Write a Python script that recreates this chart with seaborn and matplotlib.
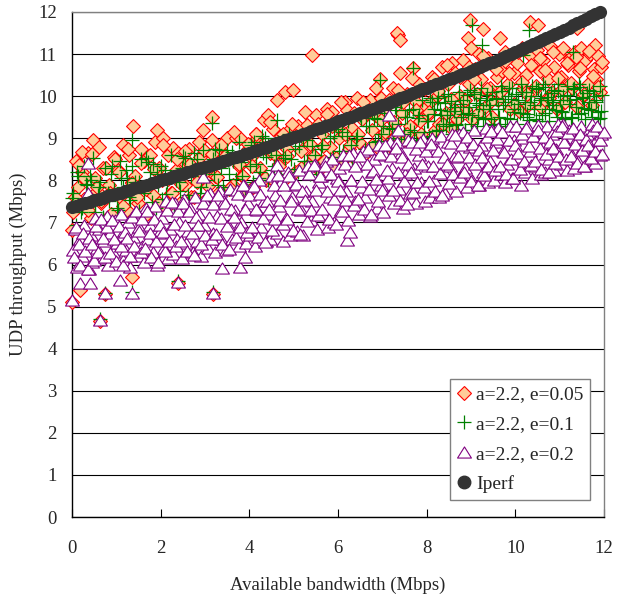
import matplotlib
matplotlib.use("Agg")
import matplotlib.pyplot as plt
from matplotlib.lines import Line2D
from matplotlib.path import Path
import seaborn as sns

# ---------------- data ----------------
iperf_x = [
    0.0, 0.1, 0.2, 0.3, 0.4, 0.5, 0.6, 0.7, 0.8, 0.9,
    1.0, 1.1, 1.2, 1.3, 1.4, 1.5, 1.6, 1.7, 1.8, 1.9,
    2.0, 2.1, 2.2, 2.3, 2.4, 2.5, 2.6, 2.7, 2.8, 2.9,
    3.0, 3.1, 3.2, 3.3, 3.4, 3.5, 3.6, 3.7, 3.8, 3.9,
    4.0, 4.1, 4.2, 4.3, 4.4, 4.5, 4.6, 4.7, 4.8, 4.9,
    5.0, 5.1, 5.2, 5.3, 5.4, 5.5, 5.6, 5.7, 5.8, 5.9,
    6.0, 6.1, 6.2, 6.3, 6.4, 6.5, 6.6, 6.7, 6.8, 6.9,
    7.0, 7.1, 7.2, 7.3, 7.4, 7.5, 7.6, 7.7, 7.8, 7.9,
    8.0, 8.1, 8.2, 8.3, 8.4, 8.5, 8.6, 8.7, 8.8, 8.9,
    9.0, 9.1, 9.2, 9.3, 9.4, 9.5, 9.6, 9.7, 9.8, 9.9,
    10.0, 10.1, 10.2, 10.3, 10.4, 10.5, 10.6, 10.7, 10.8, 10.9,
    11.0, 11.1, 11.2, 11.3, 11.4, 11.5, 11.6, 11.7, 11.8, 11.9,
]
iperf_y = [
    7.37, 7.40, 7.43, 7.46, 7.49, 7.53, 7.56, 7.59, 7.62, 7.65,
    7.68, 7.71, 7.74, 7.78, 7.81, 7.84, 7.87, 7.90, 7.94, 7.97,
    8.00, 8.03, 8.06, 8.10, 8.13, 8.16, 8.19, 8.22, 8.26, 8.29,
    8.32, 8.35, 8.39, 8.42, 8.45, 8.49, 8.52, 8.56, 8.59, 8.63,
    8.66, 8.70, 8.73, 8.77, 8.80, 8.84, 8.88, 8.91, 8.95, 8.98,
    9.02, 9.06, 9.10, 9.13, 9.17, 9.21, 9.25, 9.29, 9.32, 9.36,
    9.40, 9.44, 9.48, 9.51, 9.55, 9.59, 9.63, 9.67, 9.70, 9.74,
    9.78, 9.82, 9.86, 9.91, 9.95, 9.99, 10.03, 10.07, 10.12, 10.16,
    10.20, 10.24, 10.28, 10.32, 10.36, 10.40, 10.44, 10.48, 10.52, 10.56,
    10.60, 10.64, 10.69, 10.73, 10.78, 10.82, 10.86, 10.91, 10.95, 11.00,
    11.04, 11.09, 11.14, 11.19, 11.24, 11.29, 11.33, 11.38, 11.43, 11.48,
    11.53, 11.58, 11.63, 11.69, 11.74, 11.79, 11.84, 11.90, 11.95, 12.00,
]

# a=2.2, e=0.05 (diamonds)
dia_x = [
    0.03, 0.08, 0.14, 0.0, 0.18, 0.0,
    0.23, 0.28, 0.35, 0.22,
    0.43, 0.48, 0.52, 0.57,
    0.61, 0.63, 0.66, 0.71, 0.74,
    0.83, 0.88, 0.95,
    1.03, 1.08, 1.16,
    1.23, 1.28, 1.35, 1.36, 1.38,
    1.43, 1.48, 1.56,
    1.63, 1.69, 1.75,
    1.83, 1.88, 1.91, 1.96,
    2.03, 2.06, 2.12, 2.17,
    2.23, 2.28, 2.34, 2.38, 2.40,
    2.44, 2.50, 2.56,
    2.63, 2.68, 2.75,
    2.83, 2.88, 2.96, 2.97,
    3.03, 3.08, 3.15, 3.16, 3.19,
    3.23, 3.29, 3.36,
    3.43, 3.49, 3.55,
    3.63, 3.71, 3.76,
    3.79, 3.84, 3.90, 3.96,
    4.03, 4.08, 4.14,
    4.17, 4.24, 4.32, 4.37,
    4.43, 4.47, 4.54, 4.58,
    4.62, 4.66, 4.72, 4.78,
    4.80, 4.85, 4.92, 4.99,
    5.04, 5.10, 5.17,
    5.23, 5.29, 5.35,
    5.41, 5.44, 5.50, 5.57,
    5.63, 5.69, 5.76,
    5.83, 5.86, 5.92, 5.97,
    6.03, 6.09, 6.15,
    6.20, 6.25, 6.32, 6.38,
    6.43, 6.48, 6.55,
    6.63, 6.72, 6.77,
    6.83, 6.88, 6.95, 6.97,
    7.03, 7.09, 7.16,
    7.23, 7.29, 7.35, 7.37,
    7.40, 7.44, 7.50, 7.56, 7.32, 7.40,
    7.63, 7.70, 7.76,
    7.83, 7.88, 7.95,
    8.04, 8.08, 8.13, 8.18,
    8.23, 8.28, 8.35,
    8.43, 8.48, 8.55, 8.58,
    8.63, 8.68, 8.75,
    8.82, 8.87, 8.94, 8.96, 8.98, 8.99,
    9.03, 9.08, 9.14, 9.19,
    9.23, 9.28, 9.32, 9.38,
    9.43, 9.48, 9.54, 9.58,
    9.62, 9.65, 9.70, 9.76,
    9.83, 9.88, 9.94, 9.98,
    10.03, 10.08, 10.14, 10.18,
    10.23, 10.28, 10.33, 10.36,
    10.43, 10.48, 10.51, 10.55, 10.58,
    10.63, 10.68, 10.74, 10.78,
    10.83, 10.88, 10.93, 10.98,
    11.03, 11.08, 11.13, 11.18,
    11.23, 11.28, 11.34, 11.38, 11.39,
    11.43, 11.48, 11.53, 11.58,
    11.63, 11.68, 11.73, 11.80, 11.78,
    11.83, 11.87, 11.90, 11.93,
    # second pass
    0.06, 0.16, 0.26, 0.36, 0.46, 0.56, 0.66, 0.76,
    0.86, 0.96, 1.06, 1.16, 1.26, 1.36, 1.46, 1.56,
    1.66, 1.76, 1.86, 1.96, 2.06, 2.16, 2.26, 2.36,
    2.46, 2.56, 2.66, 2.76, 2.86, 2.96, 3.06, 3.16,
    3.26, 3.36, 3.46, 3.56, 3.66, 3.76, 3.86, 3.96,
    4.06, 4.16, 4.26, 4.36, 4.46, 4.56, 4.66, 4.76,
    4.86, 4.96, 5.06, 5.16, 5.26, 5.36, 5.46, 5.56,
    5.66, 5.76, 5.86, 5.96, 6.06, 6.16, 6.26, 6.36,
    6.46, 6.56, 6.66, 6.76, 6.86, 6.96, 7.06, 7.16,
    7.26, 7.36, 7.46, 7.56, 7.66, 7.76, 7.86, 7.96,
    8.06, 8.16, 8.26, 8.36, 8.46, 8.56, 8.66, 8.76,
    8.86, 8.96, 9.06, 9.16, 9.26, 9.36, 9.46, 9.56,
    9.66, 9.76, 9.86, 9.96, 10.06, 10.16, 10.26, 10.36,
    10.46, 10.56, 10.66, 10.76, 10.86, 10.96, 11.06, 11.16,
    11.26, 11.36, 11.46, 11.56, 11.66, 11.76, 11.86, 11.96,
]
dia_y = [
    7.25, 8.45, 7.85, 6.82, 5.39, 5.10,
    8.20, 7.55, 8.65, 8.68,
    7.10, 8.96, 8.05, 7.75,
    8.80, 4.65, 7.45, 8.30, 5.30,
    7.90, 7.20, 8.55,
    8.25, 7.60, 8.85,
    7.30, 8.60, 5.71, 7.95, 9.29,
    8.10, 7.45, 8.75,
    8.45, 7.20, 7.90,
    7.65, 8.90, 9.20, 8.30,
    8.00, 9.00, 7.35, 8.60,
    7.70, 8.77, 8.25, 5.57, 8.65,
    7.45, 8.45, 7.90,
    8.75, 7.60, 8.20,
    7.95, 8.55, 9.20, 8.72,
    7.55, 8.35, 9.51, 8.95, 5.30,
    8.10, 7.70, 8.70,
    8.45, 9.00, 7.80,
    7.90, 9.00, 8.35,
    9.00, 8.10, 7.75, 8.75,
    8.55, 7.85, 9.10,
    9.00, 8.30, 9.43, 8.00,
    9.55, 8.65, 9.21, 7.95,
    9.91, 8.40, 9.05, 8.00,
    10.09, 8.75, 9.21, 10.15,
    8.20, 9.30, 8.70,
    9.00, 9.32, 8.40,
    10.98, 8.60, 9.55, 8.25,
    9.10, 8.45, 9.70,
    8.80, 9.63, 8.35, 9.30,
    9.00, 8.45, 9.85,
    9.67, 8.75, 9.25, 8.50,
    9.95, 8.90, 9.45,
    8.65, 9.91, 9.20,
    9.55, 8.80, 10.40, 9.95,
    9.10, 9.75, 8.85,
    10.20, 9.35, 11.45, 9.00,
    10.54, 9.60, 8.95, 10.05, 11.49, 11.34,
    9.30, 10.66, 9.85,
    10.30, 9.10, 9.70,
    9.55, 9.87, 10.45, 9.20,
    10.00, 9.35, 10.70,
    9.60, 10.30, 9.25, 10.80,
    10.55, 9.45, 10.00,
    10.85, 9.70, 11.38, 10.30, 11.81, 11.14,
    9.45, 10.65, 10.05, 11.00,
    10.40, 11.60, 9.75, 10.90,
    10.20, 9.50, 10.75, 10.45,
    9.90, 11.38, 10.60, 11.05,
    10.30, 9.70, 10.95, 10.55,
    10.80, 9.65, 11.15, 10.20,
    10.50, 9.80, 11.77, 10.95,
    10.15, 11.10, 11.69, 10.60, 9.75,
    10.85, 9.90, 10.40, 11.20,
    10.10, 10.70, 9.70, 11.00,
    10.45, 11.15, 9.85, 10.75,
    10.90, 10.20, 11.05, 11.61, 9.75,
    10.60, 11.15, 10.00, 10.85,
    10.30, 11.00, 9.80, 11.22, 10.65,
    10.40, 10.95, 10.10, 10.70,
    # second pass
    7.61, 8.37, 8.06, 7.29, 8.62, 7.83, 7.51, 8.30,
    7.71, 8.51, 8.19, 7.38, 8.75, 7.94, 7.60, 8.41,
    7.80, 8.61, 8.27, 7.46, 8.83, 8.03, 7.70, 8.50,
    7.91, 8.70, 8.38, 7.60, 8.92, 8.15, 7.86, 8.62,
    8.09, 8.85, 8.57, 7.81, 9.14, 8.38, 8.10, 8.86,
    8.33, 9.09, 8.81, 8.05, 9.38, 8.62, 8.34, 9.10,
    8.57, 9.33, 9.05, 8.29, 9.62, 8.86, 8.58, 9.34,
    8.81, 9.57, 9.29, 8.53, 9.87, 9.11, 8.85, 9.61,
    9.10, 9.86, 9.60, 8.84, 10.19, 9.43, 9.16, 9.92,
    9.39, 10.15, 9.87, 9.11, 10.44, 9.68, 9.40, 10.16,
    9.63, 10.40, 10.13, 9.35, 10.73, 9.94, 9.65, 10.45,
    9.90, 10.70, 10.40, 9.60, 10.96, 10.17, 9.88, 10.64,
    10.09, 10.84, 10.54, 9.81, 11.04, 10.33, 10.05, 10.74,
    10.23, 10.90, 10.62, 9.96, 11.06, 10.42, 10.16, 10.78,
    10.31, 10.93, 10.66, 10.05, 11.07, 10.47, 10.22, 10.81,
]

# a=2.2, e=0.1 (plus)
plus_x = [
    0.03, 0.08, 0.14,
    0.23, 0.28, 0.34,
    0.43, 0.48, 0.53, 0.58,
    0.63, 0.64, 0.69, 0.74, 0.75,
    0.83, 0.89, 0.95,
    1.03, 1.09, 1.15,
    1.23, 1.29, 1.35, 1.36, 1.35,
    1.43, 1.50, 1.56,
    1.63, 1.68, 1.75,
    1.83, 1.89, 1.95,
    2.03, 2.09, 2.15,
    2.23, 2.29, 2.35, 2.38,
    2.43, 2.48, 2.55,
    2.63, 2.69, 2.76,
    2.83, 2.89, 2.96,
    3.03, 3.09, 3.15, 3.17, 3.19,
    3.23, 3.29, 3.36,
    3.43, 3.49, 3.55,
    3.63, 3.69, 3.76,
    3.83, 3.89, 3.96,
    4.03, 4.09, 4.15,
    4.23, 4.29, 4.35, 4.37,
    4.43, 4.49, 4.56,
    4.62, 4.64, 4.70, 4.77,
    4.83, 4.89, 4.95,
    5.03, 5.09, 5.16,
    5.23, 5.29, 5.36,
    5.43, 5.49, 5.55,
    5.63, 5.69, 5.76,
    5.83, 5.89, 5.95,
    6.03, 6.09, 6.15,
    6.23, 6.29, 6.35,
    6.43, 6.49, 6.55,
    6.63, 6.69, 6.76,
    6.83, 6.89, 6.95, 6.96,
    7.03, 7.09, 7.15,
    7.23, 7.29, 7.35,
    7.43, 7.49, 7.55,
    7.63, 7.70, 7.69, 7.76,
    7.83, 7.89, 7.95,
    8.03, 8.07, 8.12, 8.17,
    8.23, 8.27, 8.33, 8.38,
    8.43, 8.47, 8.53, 8.57,
    8.63, 8.67, 8.73, 8.77,
    8.83, 8.87, 8.93, 8.97, 9.02,
    9.03, 9.07, 9.13, 9.17,
    9.22, 9.24, 9.27, 9.33, 9.37,
    9.43, 9.47, 9.53, 9.57,
    9.63, 9.67, 9.73, 9.77,
    9.83, 9.87, 9.93, 9.97,
    10.03, 10.07, 10.13, 10.17,
    10.18, 10.23, 10.27, 10.30, 10.33, 10.37,
    10.43, 10.47, 10.53, 10.57,
    10.63, 10.67, 10.73, 10.77,
    10.83, 10.87, 10.93, 10.97,
    11.03, 11.07, 11.13, 11.17,
    11.23, 11.27, 11.31, 11.33, 11.37,
    11.43, 11.47, 11.53, 11.57,
    11.63, 11.67, 11.73, 11.77,
    11.83, 11.87, 11.90, 11.93,
    # second pass
    0.01, 0.11, 0.21, 0.31, 0.41, 0.51, 0.61, 0.71,
    0.81, 0.91, 1.01, 1.11, 1.21, 1.31, 1.41, 1.51,
    1.61, 1.71, 1.81, 1.91, 2.01, 2.11, 2.21, 2.31,
    2.41, 2.51, 2.61, 2.71, 2.81, 2.91, 3.01, 3.11,
    3.21, 3.31, 3.41, 3.51, 3.61, 3.71, 3.81, 3.91,
    4.01, 4.11, 4.21, 4.31, 4.41, 4.51, 4.61, 4.71,
    4.81, 4.91, 5.01, 5.11, 5.21, 5.31, 5.41, 5.51,
    5.61, 5.71, 5.81, 5.91, 6.01, 6.11, 6.21, 6.31,
    6.41, 6.51, 6.61, 6.71, 6.81, 6.91, 7.01, 7.11,
    7.21, 7.31, 7.41, 7.51, 7.61, 7.71, 7.81, 7.91,
    8.01, 8.11, 8.21, 8.31, 8.41, 8.51, 8.61, 8.71,
    8.81, 8.91, 9.01, 9.11, 9.21, 9.31, 9.41, 9.51,
    9.61, 9.71, 9.81, 9.91, 10.01, 10.11, 10.21, 10.31,
    10.41, 10.51, 10.61, 10.71, 10.81, 10.91, 11.01, 11.11,
    11.21, 11.31, 11.41, 11.51, 11.61, 11.71, 11.81, 11.91,
    # third pass (dense band on the right)
    8.06, 8.16, 8.26, 8.36, 8.46, 8.56, 8.66, 8.76,
    8.86, 8.96, 9.06, 9.16, 9.26, 9.36, 9.46, 9.56,
    9.66, 9.76, 9.86, 9.96, 10.06, 10.16, 10.26, 10.36,
    10.46, 10.56, 10.66, 10.76, 10.86, 10.96, 11.06, 11.16,
    11.26, 11.36, 11.46, 11.56, 11.66, 11.76, 11.86, 11.96,
]
plus_y = [
    7.70, 6.95, 8.10,
    7.35, 8.35, 7.90,
    8.00, 8.52, 7.25, 7.65,
    4.70, 7.95, 7.10, 8.30, 5.33,
    7.50, 8.15, 7.80,
    7.30, 8.45, 7.85,
    8.05, 7.60, 8.96, 8.35, 5.35,
    7.15, 7.95, 8.50,
    7.70, 8.52, 8.20,
    8.40, 7.35, 7.90,
    7.55, 8.25, 7.95,
    8.60, 7.40, 8.00, 5.60,
    7.75, 8.30, 8.52,
    7.50, 8.10, 8.65,
    8.35, 7.70, 8.72,
    8.00, 7.55, 9.36, 8.50, 5.35,
    8.75, 7.90, 8.30,
    7.65, 8.72, 8.15,
    8.45, 7.80, 8.90,
    8.10, 8.60, 7.75,
    8.85, 7.95, 8.40,
    8.20, 9.05, 9.00, 8.55,
    8.00, 8.75, 8.35,
    9.43, 8.90, 8.15, 8.60,
    8.05, 9.10, 8.50,
    8.75, 8.20, 9.05,
    8.45, 8.95, 8.15,
    9.20, 8.60, 8.30,
    8.85, 9.30, 8.40,
    9.00, 8.55, 9.35,
    8.70, 9.15, 8.45,
    9.40, 8.85, 8.50,
    9.05, 9.55, 8.60,
    9.30, 8.75, 9.60,
    8.90, 9.45, 10.38, 9.10,
    9.60, 8.80, 9.25,
    9.00, 9.75, 9.35,
    9.85, 9.10, 9.50,
    9.20, 10.66, 9.70, 8.95,
    9.55, 9.90, 9.15,
    9.40, 9.95, 9.05, 9.70,
    9.85, 9.20, 9.55, 10.00,
    9.30, 10.05, 9.65, 9.10,
    9.75, 9.35, 10.10, 9.50,
    9.90, 9.20, 9.60, 10.15, 11.69,
    9.55, 10.05, 9.30, 9.80,
    10.20, 11.22, 9.45, 9.90, 9.20,
    9.70, 10.10, 9.35, 9.95,
    9.50, 10.25, 9.80, 9.30,
    10.00, 9.45, 10.20, 9.70,
    9.35, 9.90, 10.30, 9.60,
    10.98, 10.10, 9.50, 11.57, 9.85, 10.25,
    9.70, 10.20, 9.40, 9.95,
    10.30, 9.60, 9.90, 9.40,
    9.80, 10.15, 9.50, 10.30,
    9.65, 10.00, 9.45, 10.25,
    9.90, 9.50, 11.06, 10.20, 9.75,
    10.30, 9.60, 9.95, 9.45,
    9.70, 10.15, 9.50, 10.00,
    9.85, 9.45, 10.25, 9.65,
    # second pass
    7.59, 8.19, 7.24, 7.92, 8.11, 7.42, 7.83, 7.13,
    7.71, 8.34, 7.34, 8.05, 8.24, 7.53, 7.95, 7.26,
    7.83, 8.44, 7.48, 8.16, 8.34, 7.67, 8.08, 7.41,
    7.97, 8.57, 7.64, 8.31, 8.50, 7.83, 8.24, 7.58,
    8.15, 8.73, 7.84, 8.49, 8.68, 8.04, 8.44, 7.81,
    8.35, 8.90, 8.06, 8.66, 8.83, 8.24, 8.60, 8.04,
    8.52, 9.01, 8.27, 8.81, 8.99, 8.45, 8.81, 8.27,
    8.75, 9.23, 8.51, 9.05, 9.23, 8.69, 9.05, 8.51,
    8.99, 9.47, 8.75, 9.29, 9.47, 8.93, 9.28, 8.75,
    9.22, 9.68, 8.98, 9.50, 9.66, 9.15, 9.48, 8.98,
    9.42, 9.86, 9.18, 9.68, 9.83, 9.33, 9.65, 9.15,
    9.58, 10.02, 9.34, 9.83, 9.96, 9.48, 9.78, 9.31,
    9.70, 10.12, 9.48, 9.94, 10.05, 9.61, 9.86, 9.43,
    9.78, 10.16, 9.56, 9.97, 10.07, 9.66, 9.90, 9.49,
    9.81, 10.17, 9.58, 9.99, 10.08, 9.67, 9.90, 9.49,
    # third pass (dense band on the right)
    9.03, 9.58, 9.95, 9.35, 9.55, 9.88, 9.32, 9.81,
    9.19, 9.74, 10.10, 9.50, 9.70, 10.02, 9.46, 9.94,
    9.34, 9.86, 10.19, 9.63, 9.81, 10.10, 9.57, 10.01,
    9.45, 9.92, 10.21, 9.70, 9.85, 10.12, 9.63, 10.03,
    9.49, 9.94, 10.21, 9.72, 9.85, 10.12, 9.63, 10.03,
]

# a=2.2, e=0.2 (triangles)
tri_x = [
    0.02, 0.07, 0.12, 0.17, 0.00, 0.18,
    0.22, 0.27, 0.33, 0.37, 0.38, 0.37,
    0.42, 0.46, 0.52, 0.57, 0.40,
    0.63, 0.62, 0.67, 0.72, 0.74, 0.78,
    0.82, 0.86, 0.92, 0.97,
    1.02, 1.08, 1.11, 1.15, 1.18,
    1.22, 1.27, 1.31, 1.35, 1.38,
    1.42, 1.47, 1.52, 1.57,
    1.62, 1.67, 1.72, 1.77,
    1.82, 1.87, 1.92, 1.97,
    2.02, 2.07, 2.12, 2.17,
    2.22, 2.27, 2.33, 2.38, 2.37,
    2.42, 2.47, 2.52, 2.57,
    2.62, 2.67, 2.72, 2.77,
    2.82, 2.87, 2.92, 2.96, 2.97,
    3.02, 3.07, 3.12, 3.17, 3.19,
    3.22, 3.27, 3.33, 3.38, 3.37,
    3.42, 3.47, 3.52, 3.57,
    3.62, 3.67, 3.72, 3.77, 3.79,
    3.82, 3.87, 3.90, 3.92, 3.97,
    4.02, 4.07, 4.12, 4.17,
    4.22, 4.27, 4.33, 4.38,
    4.42, 4.47, 4.52, 4.57,
    4.62, 4.63, 4.67, 4.72, 4.77,
    4.82, 4.87, 4.92, 4.97,
    5.02, 5.07, 5.12, 5.17,
    5.22, 5.27, 5.33, 5.38,
    5.42, 5.47, 5.52, 5.57,
    5.62, 5.67, 5.72, 5.77,
    5.82, 5.87, 5.92, 5.97,
    6.02, 6.07, 6.12, 6.17, 6.20,
    6.22, 6.27, 6.29, 6.33, 6.38,
    6.42, 6.47, 6.52, 6.57,
    6.62, 6.67, 6.72, 6.77,
    6.82, 6.87, 6.92, 6.97,
    7.02, 7.07, 7.12, 7.14, 7.17,
    7.22, 7.27, 7.33, 7.36, 7.38,
    7.42, 7.47, 7.52, 7.57,
    7.62, 7.67, 7.72, 7.77,
    7.82, 7.87, 7.92, 7.97,
    8.02, 8.07, 8.12, 8.17,
    8.22, 8.27, 8.33, 8.38,
    8.42, 8.47, 8.52, 8.57,
    8.62, 8.67, 8.72, 8.77,
    8.82, 8.87, 8.92, 8.97,
    9.02, 9.07, 9.12, 9.17,
    9.22, 9.27, 9.33, 9.38,
    9.42, 9.47, 9.52, 9.57,
    9.62, 9.67, 9.72, 9.77,
    9.82, 9.87, 9.92, 9.97,
    10.02, 10.07, 10.12, 10.17,
    10.22, 10.27, 10.33, 10.38,
    10.42, 10.47, 10.52, 10.57,
    10.62, 10.67, 10.72, 10.77,
    10.82, 10.87, 10.92, 10.97,
    11.02, 11.07, 11.12, 11.17,
    11.22, 11.27, 11.33, 11.38,
    11.42, 11.47, 11.52, 11.57,
    11.62, 11.67, 11.72, 11.77, 11.80,
    11.82, 11.87, 11.90, 11.93,
    # second pass
    0.05, 0.10, 0.15, 0.19, 0.25, 0.30, 0.35, 0.39,
    0.45, 0.50, 0.55, 0.59, 0.65, 0.70, 0.75, 0.79,
    0.85, 0.90, 0.95, 0.99, 1.05, 1.10, 1.15, 1.19,
    1.25, 1.30, 1.35, 1.39, 1.45, 1.50, 1.55, 1.59,
    1.65, 1.70, 1.75, 1.79, 1.85, 1.90, 1.95, 1.99,
    2.05, 2.10, 2.15, 2.19, 2.25, 2.30, 2.35, 2.39,
    2.45, 2.50, 2.55, 2.59, 2.65, 2.70, 2.75, 2.79,
    2.85, 2.90, 2.95, 2.99, 3.05, 3.10, 3.15, 3.19,
    3.25, 3.30, 3.35, 3.39, 3.45, 3.50, 3.55, 3.59,
    3.65, 3.70, 3.75, 3.79, 3.85, 3.90, 3.95, 3.99,
    4.05, 4.10, 4.15, 4.19, 4.25, 4.30, 4.35, 4.39,
    4.45, 4.50, 4.55, 4.59, 4.65, 4.70, 4.75, 4.79,
    4.85, 4.90, 4.95, 4.99, 5.05, 5.10, 5.15, 5.19,
    5.25, 5.30, 5.35, 5.39, 5.45, 5.50, 5.55, 5.59,
    5.65, 5.70, 5.75, 5.79, 5.85, 5.90, 5.95, 5.99,
    6.05, 6.10, 6.15, 6.19, 6.25, 6.30, 6.35, 6.39,
    6.45, 6.50, 6.55, 6.59, 6.65, 6.70, 6.75, 6.79,
    6.85, 6.90, 6.95, 6.99, 7.05, 7.10, 7.15, 7.19,
    7.25, 7.30, 7.35, 7.39, 7.45, 7.50, 7.55, 7.59,
    7.65, 7.70, 7.75, 7.79, 7.85, 7.90, 7.95, 7.99,
    8.05, 8.10, 8.15, 8.19, 8.25, 8.30, 8.35, 8.39,
    8.45, 8.50, 8.55, 8.59, 8.65, 8.70, 8.75, 8.79,
    8.85, 8.90, 8.95, 8.99, 9.05, 9.10, 9.15, 9.19,
    9.25, 9.30, 9.35, 9.39, 9.45, 9.50, 9.55, 9.59,
    9.65, 9.70, 9.75, 9.79, 9.85, 9.90, 9.95, 9.99,
    10.05, 10.10, 10.15, 10.19, 10.25, 10.30, 10.35, 10.39,
    10.45, 10.50, 10.55, 10.59, 10.65, 10.70, 10.75, 10.79,
    10.85, 10.90, 10.95, 10.99, 11.05, 11.10, 11.15, 11.19,
    11.25, 11.30, 11.35, 11.39, 11.45, 11.50, 11.55, 11.59,
    11.65, 11.70, 11.75, 11.79, 11.85, 11.90, 11.95, 11.99,
]
tri_y = [
    6.35, 6.85, 5.95, 6.60, 5.16, 5.56,
    6.20, 6.95, 6.50, 8.41, 5.90, 7.70,
    6.70, 6.05, 7.10, 6.40, 5.56,
    4.68, 6.85, 6.15, 6.55, 5.32, 7.15,
    6.00, 6.75, 6.30, 7.05,
    6.50, 5.63, 7.20, 6.10, 6.80,
    6.35, 7.00, 5.95, 5.33, 6.65,
    7.25, 6.20, 6.90, 6.45,
    6.05, 7.35, 6.60, 6.95,
    6.30, 7.40, 6.00, 6.75,
    7.10, 6.40, 7.50, 6.15,
    6.85, 6.25, 7.45, 5.59, 6.60,
    7.00, 6.15, 7.55, 6.50,
    6.80, 7.35, 6.30, 7.60,
    6.55, 7.20, 6.20, 8.09, 6.95,
    7.45, 6.40, 7.70, 6.75, 5.32,
    6.30, 7.15, 7.75, 5.91, 6.60,
    7.50, 6.35, 6.95, 7.80,
    6.60, 7.30, 7.77, 6.45, 5.95,
    7.00, 7.90, 6.19, 6.50, 7.45,
    6.70, 7.85, 6.45, 7.30,
    8.00, 6.90, 7.50, 6.55,
    7.20, 6.60, 8.10, 7.65,
    8.36, 6.75, 7.40, 7.95, 6.55,
    7.10, 8.20, 6.70, 7.60,
    7.90, 6.80, 8.25, 7.30,
    6.70, 7.75, 8.35, 7.05,
    7.50, 8.40, 6.85, 7.95,
    8.10, 7.20, 8.45, 6.90,
    7.60, 8.50, 7.00, 8.05,
    8.30, 7.30, 8.60, 7.75, 6.58,
    7.05, 6.78, 8.00, 8.65, 7.50,
    8.40, 7.20, 7.85, 8.70,
    7.60, 8.75, 7.15, 8.20,
    8.50, 7.35, 8.85, 7.90,
    7.25, 8.60, 8.05, 9.55, 8.90,
    8.30, 7.45, 8.90, 9.20, 7.80,
    8.65, 7.35, 8.15, 8.95,
    7.70, 8.90, 8.30, 7.45,
    8.60, 7.95, 8.98, 7.50,
    8.35, 7.60, 9.00, 8.00,
    8.75, 7.60, 9.05, 8.20,
    7.70, 8.90, 8.35, 9.10,
    8.55, 7.75, 9.10, 8.10,
    9.15, 8.30, 7.85, 8.80,
    8.00, 9.20, 8.60, 7.90,
    8.85, 8.20, 9.25, 7.95,
    8.45, 9.20, 8.00, 8.90,
    9.25, 8.15, 8.70, 7.95,
    8.40, 9.30, 8.05, 8.95,
    9.30, 8.55, 7.90, 9.00,
    8.20, 9.30, 8.70, 8.05,
    9.05, 8.35, 9.32, 8.15,
    8.80, 8.20, 9.30, 8.50,
    9.10, 8.25, 8.75, 9.34,
    8.40, 9.35, 8.90, 8.25,
    9.20, 8.60, 8.30, 9.00,
    8.45, 9.30, 8.80, 8.35,
    9.10, 8.50, 9.35, 8.70, 8.41,
    8.95, 9.25, 8.60, 9.10,
    # second pass
    6.17, 6.90, 6.48, 5.99, 6.75, 6.32, 5.89, 6.63,
    6.48, 6.10, 6.91, 6.29, 7.08, 6.63, 6.19, 6.89,
    6.28, 7.05, 6.60, 6.08, 6.92, 6.45, 5.98, 6.78,
    6.64, 6.21, 7.14, 6.43, 7.28, 6.79, 6.30, 7.07,
    6.40, 7.26, 6.76, 6.18, 7.09, 6.57, 6.06, 6.94,
    6.77, 6.32, 7.30, 6.55, 7.49, 6.96, 6.44, 7.26,
    6.55, 7.45, 6.93, 6.33, 7.27, 6.74, 6.22, 7.12,
    6.93, 6.48, 7.46, 6.71, 7.65, 7.13, 6.60, 7.43,
    6.72, 7.64, 7.10, 6.49, 7.46, 6.92, 6.38, 7.31,
    7.13, 6.65, 7.67, 6.89, 7.89, 7.33, 6.78, 7.65,
    6.90, 7.87, 7.31, 6.66, 7.68, 7.11, 6.54, 7.52,
    7.33, 6.83, 7.90, 7.08, 8.13, 7.54, 6.96, 7.88,
    7.09, 8.10, 7.51, 6.83, 7.91, 7.31, 6.72, 7.74,
    7.54, 7.03, 8.14, 7.29, 8.37, 7.77, 7.18, 8.11,
    7.32, 8.34, 7.75, 7.07, 8.15, 7.55, 6.96, 7.98,
    7.78, 7.27, 8.38, 7.53, 8.61, 8.01, 7.42, 8.35,
    7.56, 8.58, 7.99, 7.31, 8.39, 7.79, 7.20, 8.22,
    8.02, 7.51, 8.62, 7.77, 8.83, 8.24, 7.65, 8.57,
    7.78, 8.77, 8.19, 7.54, 8.55, 7.99, 7.43, 8.39,
    8.19, 7.72, 8.74, 7.96, 8.91, 8.38, 7.85, 8.69,
    7.98, 8.87, 8.35, 7.75, 8.69, 8.18, 7.66, 8.55,
    8.38, 7.94, 8.88, 8.16, 9.07, 8.57, 8.07, 8.85,
    8.19, 9.04, 8.55, 7.98, 8.86, 8.38, 7.89, 8.72,
    8.55, 8.13, 9.02, 8.34, 9.18, 8.71, 8.24, 8.98,
    8.34, 9.14, 8.67, 8.14, 8.96, 8.50, 8.05, 8.83,
    8.66, 8.28, 9.11, 8.47, 9.25, 8.81, 8.37, 9.06,
    8.47, 9.20, 8.77, 8.28, 9.03, 8.62, 8.20, 8.91,
    8.76, 8.41, 9.17, 8.59, 9.29, 8.90, 8.50, 9.12,
    8.59, 9.24, 8.86, 8.42, 9.09, 8.72, 8.35, 8.98,
    8.85, 8.54, 9.20, 8.69, 9.30, 8.96, 8.62, 9.16,
]

x_ticks = [0, 2, 4, 6, 8, 10, 12]
y_ticks = [0, 1, 2, 3, 4, 5, 6, 7, 8, 9, 10, 11, 12]
labels = ["a=2.2, e=0.05", "a=2.2, e=0.1", "a=2.2, e=0.2", "Iperf"]
x_label = "Available bandwidth (Mbps)"
y_label = "UDP throughput (Mbps)"

# ---------------- style ----------------
sns.set_theme(style="white")
plt.rcParams["font.family"] = ["Liberation Serif", "DejaVu Serif"]

DIA_FACE, DIA_EDGE = "#FFCC99", "#FF0000"
PLUS_C = "#008000"
TRI_EDGE = "#800080"
IPERF_C = "#333333"

# slightly wide triangle, like the original marker
wide_tri = Path([(0.0, 0.8), (-1.0, -0.8), (1.0, -0.8), (0.0, 0.8)],
                [Path.MOVETO, Path.LINETO, Path.LINETO, Path.CLOSEPOLY])

fig = plt.figure(figsize=(6.17, 5.96), dpi=100)
ax = fig.add_axes([72 / 617, 1 - 517 / 596, 532 / 617, 505 / 596])

sns.scatterplot(x=dia_x, y=dia_y, ax=ax, marker="D", s=50, color=DIA_FACE,
                edgecolor=DIA_EDGE, linewidth=0.8, clip_on=False, zorder=3)
sns.scatterplot(x=plus_x, y=plus_y, ax=ax, marker="+", s=100, color=PLUS_C,
                linewidth=0.9, clip_on=False, zorder=4)
sns.scatterplot(x=tri_x, y=tri_y, ax=ax, marker=wide_tri, s=100, color="white",
                edgecolor=TRI_EDGE, linewidth=0.8, clip_on=False, zorder=5)
sns.scatterplot(x=iperf_x, y=iperf_y, ax=ax, marker="o", s=90, color=IPERF_C,
                edgecolor=IPERF_C, linewidth=0, clip_on=False, zorder=6)

ax.set_xlim(0, 12)
ax.set_ylim(0, 12)
ax.set_xticks(x_ticks)
ax.set_yticks(y_ticks)
ax.yaxis.grid(True, color="black", linewidth=0.8)
ax.xaxis.grid(False)
ax.set_axisbelow(True)

for side in ["left", "bottom"]:
    ax.spines[side].set_color("black")
    ax.spines[side].set_linewidth(1.0)
for side in ["top", "right"]:
    ax.spines[side].set_color("#808080")
    ax.spines[side].set_linewidth(1.0)

ax.tick_params(axis="x", direction="in", length=6, width=0.8, color="black",
               pad=16.5, labelsize=13.5, bottom=True)
ax.tick_params(axis="y", length=0, pad=11, labelsize=13.5, left=True)

ax.set_xlabel(x_label, fontsize=13.5, labelpad=14)
ax.set_ylabel(y_label, fontsize=13.5, labelpad=8)

handles = [
    Line2D([], [], linestyle="none", marker="D", markersize=7,
           markerfacecolor=DIA_FACE, markeredgecolor=DIA_EDGE, markeredgewidth=0.8),
    Line2D([], [], linestyle="none", marker="+", markersize=10,
           markeredgecolor=PLUS_C, markeredgewidth=0.9),
    Line2D([], [], linestyle="none", marker=wide_tri, markersize=10,
           markerfacecolor="white", markeredgecolor=TRI_EDGE, markeredgewidth=0.8),
    Line2D([], [], linestyle="none", marker="o", markersize=9,
           markerfacecolor=IPERF_C, markeredgecolor=IPERF_C),
]
leg = ax.legend(handles, labels, loc="lower right",
                bbox_to_anchor=(518 / 532, 17 / 505), borderaxespad=0,
                fontsize=14, frameon=True, fancybox=False, framealpha=1,
                edgecolor="#808080", handlelength=0.8, handletextpad=0.2,
                labelspacing=0.63, borderpad=0.35)
leg.get_frame().set_linewidth(1.0)
leg.set_zorder(10)

fig.savefig("out.png", dpi=100)
